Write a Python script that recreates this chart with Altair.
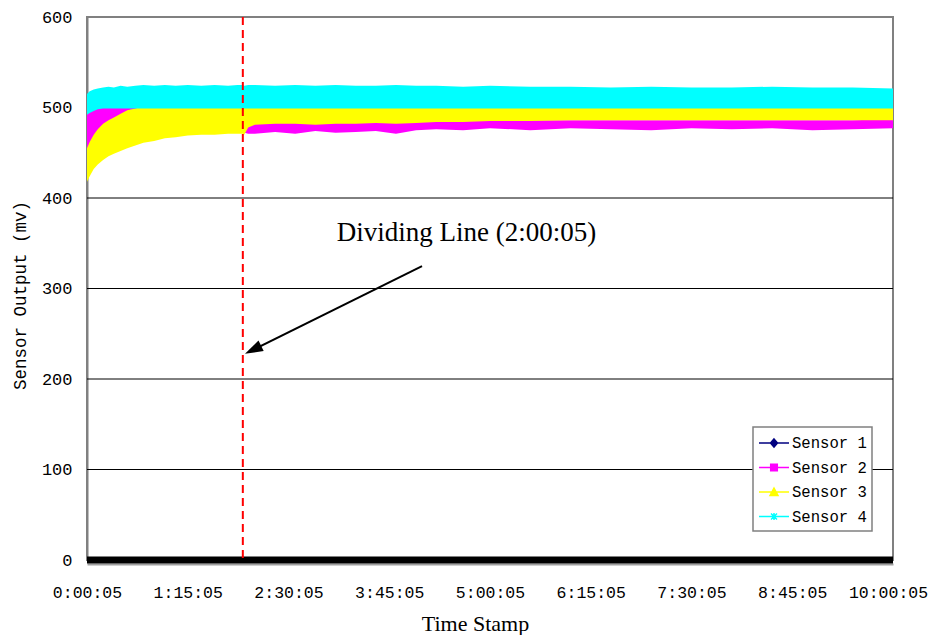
import json
import altair as alt
import pandas as pd

sensors = ["Sensor 1", "Sensor 2", "Sensor 3", "Sensor 4"]
colors = ["#000080", "#FF00FF", "#FFFF00", "#00FFFF"]

# elapsed minutes since 0:00:05
minutes = [0, 2, 5, 8, 12, 16, 20, 25, 30, 36, 42, 50, 58, 66, 75, 85, 95, 105, 112, 116,
           117, 120, 125, 140, 155, 170, 185, 200, 215, 230, 245, 260, 280, 300, 330, 360,
           390, 420, 450, 480, 510, 540, 570, 600]

s1_lo = [487, 489, 492, 494, 496, 496, 496, 496, 496, 496, 496, 496, 496, 496, 496, 496, 496, 496, 496, 496,
         496, 496, 496, 496, 496, 496, 496, 496, 496, 496, 496, 496, 496, 496, 496, 496,
         496, 496, 496, 496, 496, 496, 496, 496]
s1_hi = [500, 501, 502, 503, 504, 504, 504, 504, 504, 504, 504, 504, 504, 504, 504, 504, 504, 504, 504, 504,
         503, 503, 503, 503, 503, 503, 503, 503, 503, 503, 503, 503, 503, 503, 503, 503,
         503, 503, 503, 503, 503, 503, 503, 502]

s2_lo = [451, 455, 460, 465, 470, 474, 478, 481, 484, 486, 486, 486, 486, 486, 486, 486, 486, 486, 486, 486,
         472, 471, 471, 473, 471, 474, 472, 473, 474, 471, 475, 476, 475, 477, 475, 477,
         476, 475, 477, 476, 477, 475, 476, 477]
s2_hi = [496, 500, 502, 503, 504, 504, 505, 505, 506, 505, 506, 505, 505, 504, 505, 504, 505, 504, 504, 504,
         485, 485, 485, 484, 484, 485, 484, 485, 484, 486, 485, 485, 485, 486, 486, 486,
         486, 486, 486, 486, 486, 486, 486, 487]

s3_lo = [418, 424, 432, 437, 442, 446, 449, 452, 455, 458, 461, 463, 466, 467, 469, 470, 470, 471, 471, 471,
         470, 478, 481, 482, 482, 481, 482, 482, 483, 482, 483, 484, 484, 485, 485, 486,
         486, 486, 486, 486, 486, 486, 486, 486]
s3_hi = [455, 462, 470, 476, 482, 486, 489, 493, 497, 499, 501, 502, 502, 503, 503, 503, 503, 503, 503, 503,
         503, 504, 504, 504, 504, 504, 504, 504, 504, 504, 504, 503, 504, 503, 503, 503,
         503, 503, 503, 503, 503, 502, 503, 503]

s4_lo = [492, 494, 496, 498, 499, 499, 499, 499, 499, 499, 499, 499, 499, 499, 499, 499, 499, 499, 499, 499,
         499, 499, 499, 499, 499, 499, 499, 499, 499, 499, 499, 499, 499, 499, 499, 499,
         499, 499, 499, 499, 499, 499, 499, 499]
s4_hi = [515, 518, 520, 521, 522, 523, 522, 524, 523, 524, 525, 524, 525, 524, 525, 524, 525, 524, 525, 525,
         524, 525, 525, 524, 525, 524, 525, 524, 524, 525, 524, 524, 523, 524, 523, 523,
         522, 523, 522, 522, 523, 522, 522, 521]

tick_minutes = [0, 75, 150, 225, 300, 375, 450, 525, 600]
tick_labels = ["0:00:05", "1:15:05", "2:30:05", "3:45:05", "5:00:05", "6:15:05",
               "7:30:05", "8:45:05", "10:00:05"]
y_ticks = [0, 100, 200, 300, 400, 500, 600]
grid_values = [100, 200, 300, 400, 500]

divide_minute = [116]
annotation_text = ["Dividing Line (2:00:05)"]
annotation_pos = [186, 352]          # minutes, mv
arrow_tail = [249.4, 324.8]
arrow_head = [123.6, 232.3]

lows = [s1_lo, s2_lo, s3_lo, s4_lo]
highs = [s1_hi, s2_hi, s3_hi, s4_hi]
rows = []
for name, lo, hi in zip(sensors, lows, highs):
    for t, a, b in zip(minutes, lo, hi):
        rows.append({"t": t, "lo": a, "hi": b, "sensor": name})
df = pd.DataFrame(rows)

legend_df = pd.DataFrame({"sensor": sensors, "t": [None] * 4, "v": [None] * 4})

shape_paths = [
    "M-1,0H2M0.5,-0.4L0.85,0L0.5,0.4L0.15,0Z",
    "M-1,0H2M0.17,-0.33H0.83V0.33H0.17Z",
    "M-1,0H2M0.5,-0.4L0.9,0.35L0.1,0.35Z",
    "M-1,0H2M0.2,-0.3L0.8,0.3M0.2,0.3L0.8,-0.3M0.5,-0.35V0.35",
]

xscale = alt.Scale(domain=[0, 600], nice=False, zero=False)
yscale = alt.Scale(domain=[0, 600], nice=False)
fillscale = alt.Scale(domain=sensors, range=colors)

label_expr = json.dumps(tick_labels) + "[round(datum.value/75)]"

x_axis = alt.Axis(values=tick_minutes, labelExpr=label_expr, title="Time Stamp",
                  ticks=False, grid=False, domainColor="#A0A0A0", domainWidth=2, offset=4,
                  labelFont="Liberation Mono", labelFontSize=16.5, labelColor="black",
                  labelPadding=20, labelFlush=False,
                  labelOffset={"condition": {"test": "datum.value == 600", "value": -5}, "value": 0},
                  titleFont="Liberation Serif", titleFontSize=22, titleFontWeight="normal",
                  titleColor="black", titleX=388, titleY=66, titleBaseline="alphabetic")
y_axis = alt.Axis(values=y_ticks, title="Sensor Output (mv)", ticks=False, grid=False,
                  domainColor="#808080", domainWidth=2,
                  labelFont="Liberation Mono", labelFontSize=17, labelColor="black",
                  labelPadding=15,
                  titleFont="Liberation Mono", titleFontSize=17.5, titleFontWeight="normal",
                  titleColor="black", titleX=-67, titleY=278, titleAngle=-90,
                  titleBaseline="middle", titleAlign="center")

areas = alt.Chart(df).mark_area(opacity=1, interpolate="linear").encode(
    x=alt.X("t:Q", scale=xscale, axis=x_axis),
    y=alt.Y("lo:Q", scale=yscale, axis=y_axis),
    y2="hi:Q",
    fill=alt.Fill("sensor:N", scale=fillscale, title=None),
    detail="sensor:N",
)

grid = alt.Chart(pd.DataFrame({"v": grid_values})).mark_rule(color="black", strokeWidth=1).encode(
    y=alt.Y("v:Q", scale=yscale)
)

baseline = alt.Chart(pd.DataFrame({"v": [0]})).mark_rule(color="black", strokeWidth=7).encode(
    y=alt.Y("v:Q", scale=yscale)
)

divider = alt.Chart(pd.DataFrame({"t": divide_minute})).mark_rule(
    color="#FF0000", strokeWidth=2, strokeDash=[8, 5]
).encode(x=alt.X("t:Q", scale=xscale))

arrow_df = pd.DataFrame({"x": [arrow_tail[0]], "y": [arrow_tail[1]],
                         "x2": [arrow_head[0]], "y2": [arrow_head[1]]})
arrow_line = alt.Chart(arrow_df).mark_rule(color="black", strokeWidth=2).encode(
    x=alt.X("x:Q", scale=xscale), y=alt.Y("y:Q", scale=yscale), x2="x2:Q", y2="y2:Q"
)
arrow_tip = alt.Chart(pd.DataFrame({"x": [arrow_head[0]], "y": [arrow_head[1]]})).mark_point(
    shape="M0,-1L0.65,1L-0.65,1Z", filled=True, color="black", opacity=1, size=324, angle=243.6
).encode(x=alt.X("x:Q", scale=xscale), y=alt.Y("y:Q", scale=yscale))

annot = alt.Chart(pd.DataFrame({"x": [annotation_pos[0]], "y": [annotation_pos[1]],
                                "label": annotation_text})).mark_text(
    align="left", baseline="alphabetic", font="Liberation Serif", fontSize=27, color="black"
).encode(x=alt.X("x:Q", scale=xscale), y=alt.Y("y:Q", scale=yscale), text="label:N")

legend_pts = alt.Chart(legend_df).mark_point(filled=True, opacity=1, strokeWidth=2).encode(
    x=alt.X("t:Q", scale=xscale),
    y=alt.Y("v:Q", scale=yscale),
    fill=alt.Fill("sensor:N", scale=fillscale, title=None),
    stroke=alt.Stroke("sensor:N", scale=alt.Scale(domain=sensors, range=colors), title=None),
    shape=alt.Shape("sensor:N", scale=alt.Scale(domain=sensors, range=shape_paths), title=None),
)

chart = alt.layer(grid, areas, baseline, divider, arrow_line, arrow_tip, annot, legend_pts).properties(
    width=806, height=543,
    autosize=alt.AutoSizeParams(type="none"),
    padding={"left": 79, "top": 9, "right": 35, "bottom": 75},
).configure_view(
    stroke="#808080", strokeWidth=2
).configure_legend(
    orient="none", legendX=666, legendY=410,
    strokeColor="#808080", strokeWidth=1.5, fillColor="white", padding=5,
    symbolSize=400, symbolStrokeWidth=1.5, symbolOpacity=1,
    labelFont="Liberation Mono", labelFontSize=15.6, labelColor="black",
    labelOffset=12, rowPadding=4.5,
)

chart.save("out.html", embed_options={"renderer": "svg", "actions": False})
